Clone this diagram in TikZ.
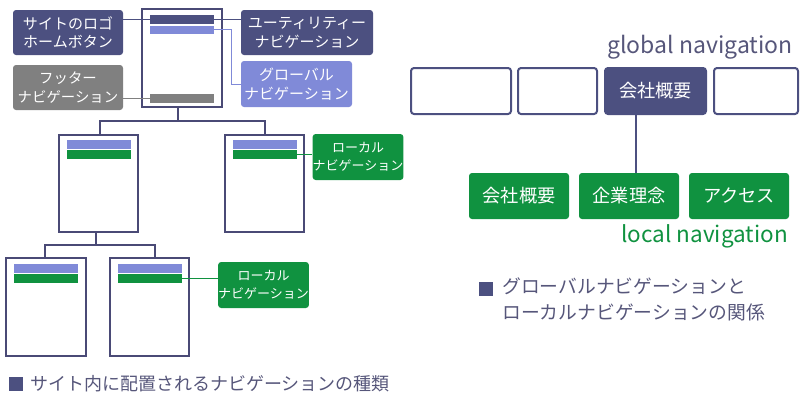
\documentclass[tikz,border=0pt]{standalone}
\usepackage{fontspec}
\setmainfont{Noto Sans CJK JP}
\usetikzlibrary{calc}
\definecolor{navy}{RGB}{76,80,128}
\definecolor{peri}{RGB}{128,138,216}
\definecolor{greyc}{RGB}{128,128,128}
\definecolor{grn}{RGB}{16,146,64}
\definecolor{capc}{RGB}{86,86,122}
\definecolor{pagec}{RGB}{74,74,118}
\tikzset{
  lbl/.style={rounded corners=3pt, inner sep=0pt, align=center, text=white, font=\fontsize{15}{18.5}\selectfont},
  page/.style={draw=pagec, line width=2pt, fill=white, inner sep=0pt},
  bar/.style={inner sep=0pt, minimum width=64pt},
  tree/.style={draw=pagec, line width=2pt},
  thin/.style={line width=1pt},
  gbox/.style={draw=navy, line width=2pt, rounded corners=3pt, inner sep=0pt, minimum height=46pt},
  lbox/.style={fill=grn, rounded corners=3pt, inner sep=0pt, minimum height=46pt, minimum width=100pt, text=white, font=\fontsize{18.2}{20}\selectfont},
  capsq/.style={fill=navy, inner sep=0pt, minimum size=14pt},
  captxt/.style={text=capc, inner sep=0pt, font=\fontsize{18}{25}\selectfont, align=left}
}
\begin{document}
\begin{tikzpicture}[x=1pt,y=-1pt]
\useasboundingbox (0,0) rectangle (800,400);
% ---- left: page tree ----
\node[page, minimum width=80pt, minimum height=98pt] (p1) at (182,58) {};
\node[bar, fill=navy, minimum height=9pt] (b1d) at (182,19.5) {};
\node[bar, fill=peri, minimum height=8pt] (b1l) at (182,29.5) {};
\node[bar, fill=greyc, minimum height=9pt] (b1g) at (182,98.5) {};

\node[lbl, fill=navy, minimum width=110pt, minimum height=45pt] (logo) at (68,32.5) {サイトのロゴ\\ホームボタン};
\node[lbl, fill=greyc, minimum width=110pt, minimum height=45pt, font=\fontsize{14.4}{18.5}\selectfont] (foot) at (68,87.5) {フッター\\ナビゲーション};
\node[lbl, fill=navy, minimum width=132pt, minimum height=45pt] (util) at (307,32.5) {ユーティリティー\\ナビゲーション};
\node[lbl, fill=peri, minimum width=111pt, minimum height=46pt] (glob) at (296.5,84) {グローバル\\ナビゲーション};

\draw[thin, navy] (logo.east |- b1d) -- (b1d.west);
\draw[thin, navy] (b1d.east) -- (b1d.east -| util.west);
\draw[thin, greyc] (b1g.west) -- (b1g.west -| foot.east);
\draw[thin, peri] (b1l.east) -- ++(17,0) coordinate (gk) |- (glob.west);

\node[page, minimum width=79pt, minimum height=97pt] (p2a) at (98.5,183.5) {};
\node[bar, fill=peri, minimum height=9pt] (b2al) at (99,144.5) {};
\node[bar, fill=grn, minimum height=9pt] (b2ag) at (99,154.5) {};
\node[page, minimum width=79pt, minimum height=97pt] (p2b) at (264.5,183.5) {};
\node[bar, fill=peri, minimum height=9pt] (b2bl) at (265,144.5) {};
\node[bar, fill=grn, minimum height=9pt] (b2bg) at (265,154.5) {};

\draw[tree] ([xshift=-4pt]p1.south) -- ++(0,13) coordinate (j1);
\draw[tree] ([xshift=1.5pt]p2a.north) |- (j1) -| ([xshift=0.5pt]p2b.north);

\node[lbl, fill=grn, minimum width=90pt, minimum height=46pt, font=\fontsize{13}{18.5}\selectfont] (loc1) at (358,157) {ローカル\\ナビゲーション};
\draw[thin, grn] (b2bg.east) -- (b2bg.east -| loc1.west);

\node[page, minimum width=80pt, minimum height=98pt] (p3a) at (46,307) {};
\node[bar, fill=peri, minimum height=9pt] (b3al) at (46,268.5) {};
\node[bar, fill=grn, minimum height=9pt] (b3ag) at (46,278.5) {};
\node[page, minimum width=79pt, minimum height=98pt] (p3b) at (149.5,307) {};
\node[bar, fill=peri, minimum height=9pt] (b3bl) at (150,268.5) {};
\node[bar, fill=grn, minimum height=9pt] (b3bg) at (150,278.5) {};

\draw[tree] ([xshift=-2.5pt]p2a.south) -- ++(0,12) coordinate (j2);
\draw[tree] ([xshift=-1pt]p3a.north) |- (j2) -| ([xshift=5.5pt]p3b.north);

\node[lbl, fill=grn, minimum width=89pt, minimum height=46pt, font=\fontsize{13}{18.5}\selectfont] (loc2) at (263.5,285) {ローカル\\ナビゲーション};
\draw[thin, grn] (b3bg.east) -- (b3bg.east -| loc2.west);

\node[capsq] (sq1) at (16,384) {};
\node[captxt, anchor=west] (cap1) at (30,384) {サイト内に配置されるナビゲーションの種類};

% ---- right: global / local ----
\node[text=capc, inner sep=0pt, anchor=base east, font=\fontsize{23}{28}\selectfont] (gl) at (793,53) {global navigation};
\node[gbox, minimum width=100pt] (g1) at (461,91) {};
\node[gbox, minimum width=79pt] (g2) at (557.5,91) {};
\node[gbox, fill=navy, minimum width=101pt, text=white, font=\fontsize{18.2}{20}\selectfont] (g3) at (655.5,91) {会社概要};
\node[gbox, minimum width=84pt] (g4) at (756,91) {};

\node[lbox] (l1) at (519,196) {会社概要};
\node[lbox] (l2) at (629,196) {企業理念};
\node[lbox] (l3) at (739,196) {アクセス};
\draw[tree, navy] ([xshift=-20pt]g3.south) -- ([xshift=-20pt]g3.south |- l2.north);

\node[text=grn, inner sep=0pt, anchor=base east, font=\fontsize{22.5}{28}\selectfont] (ln) at (788,242) {local navigation};

\node[capsq] (sq2) at (486,289) {};
\node[captxt, anchor=north west, font=\fontsize{18.8}{25}\selectfont] (cap2) at (502,278) {グローバルナビゲーションと\\ローカルナビゲーションの関係};
\end{tikzpicture}
\end{document}
